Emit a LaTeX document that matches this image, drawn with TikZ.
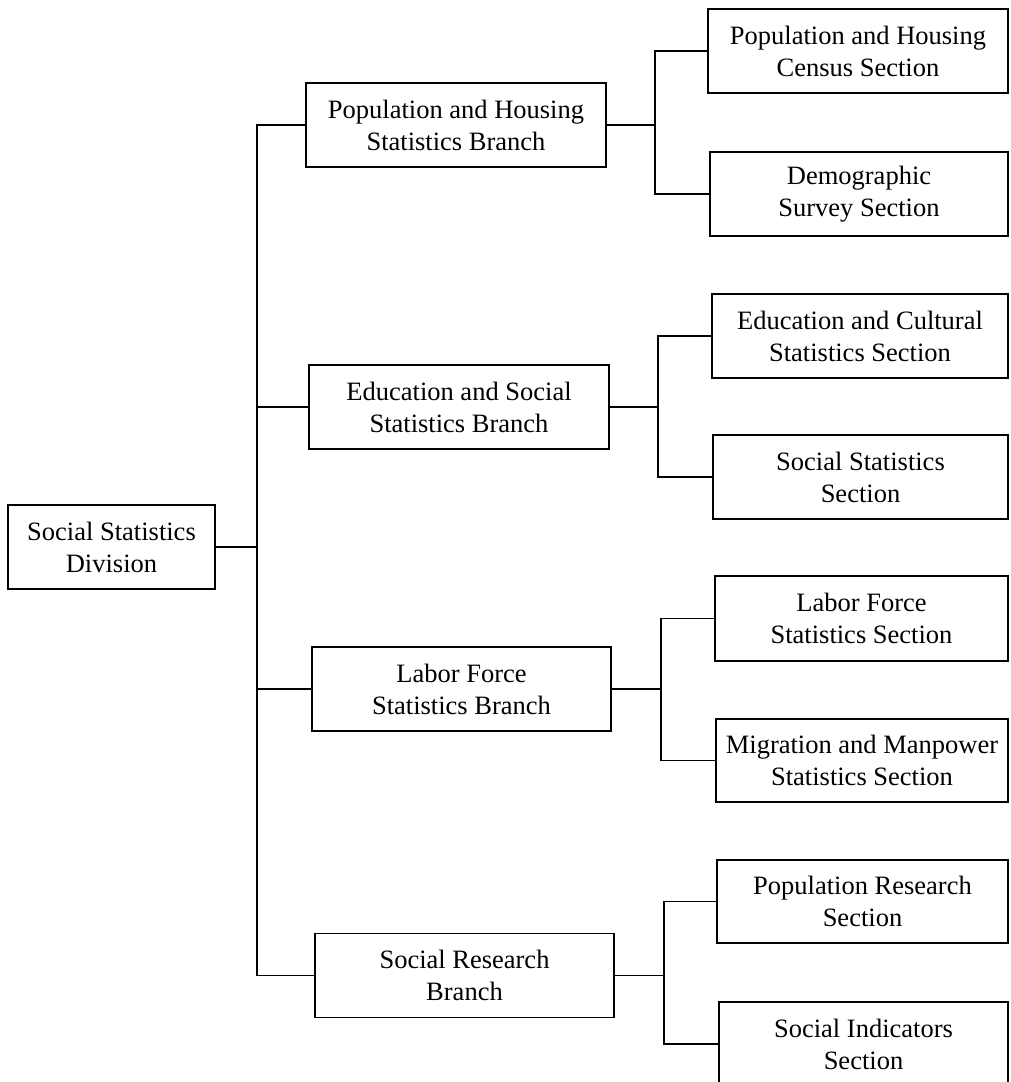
\documentclass[tikz,border=0pt]{standalone}
\usepackage{fontspec}
\setmainfont{Liberation Serif}
\begin{document}
\begin{tikzpicture}[x=1pt,y=-1pt,
  box/.style={draw=black, line width=1.5pt, rectangle, inner sep=0pt, align=center,
    font=\fontsize{26.5}{32}\selectfont, text=black},
  link/.style={draw=black, line width=1.5pt}]
\useasboundingbox (0,0) rectangle (1010,1082);
\clip (0,0) rectangle (1010,1082);
\fill[white] (0,0) rectangle (1010,1082);
% root
\node[box, minimum width=207pt, minimum height=84pt] (root) at (111.5,547) {Social Statistics\\Division};
% branches
\node[box, minimum width=300pt, minimum height=84pt] (b1) at (456,125) {Population and Housing\\Statistics Branch};
\node[box, minimum width=300pt, minimum height=84pt] (b2) at (459,407) {Education and Social\\Statistics Branch};
\node[box, minimum width=299pt, minimum height=84pt] (b3) at (461.5,689) {Labor Force\\Statistics Branch};
\node[box, minimum width=299pt, minimum height=84pt] (b4) at (464.5,975.5) {Social Research\\Branch};
% sections
\node[box, minimum width=300pt, minimum height=84pt] (c1) at (858,51) {Population and Housing\\Census Section};
\node[box, minimum width=298pt, minimum height=84pt] (c2) at (859,194) {Demographic\\Survey Section};
\node[box, minimum width=296pt, minimum height=84pt] (c3) at (860,336) {Education and Cultural\\Statistics Section};
\node[box, minimum width=295pt, minimum height=84pt] (c4) at (860.5,477) {Social Statistics\\Section};
\node[box, minimum width=293pt, minimum height=85pt] (c5) at (861.5,618.5) {Labor Force\\Statistics Section};
\node[box, minimum width=292pt, minimum height=83pt] (c6) at (862,760.5) {Migration and Manpower\\Statistics Section};
\node[box, minimum width=291pt, minimum height=83pt] (c7) at (862.5,901.5) {Population Research\\Section};
\node[box, minimum width=289pt, minimum height=84pt] (c8) at (863.5,1044) {Social Indicators\\Section};
% trunk coordinates
\coordinate (tk) at (257,0);
\coordinate (s1) at (655,0);
\coordinate (s2) at (658,0);
\coordinate (s3) at (661,0);
\coordinate (s4) at (664,0);
% main trunk
\draw[link] (root.east) -- (root.east -| tk);
\draw[link] (b1.west) -| (tk |- b4.west) -- (b4.west);
\draw[link] (b2.west) -- (b2.west -| tk);
\draw[link] (b3.west) -- (b3.west -| tk);
% sub trunks
\draw[link] (b1.east) -- (b1.east -| s1);
\draw[link] (c1.west) -| (s1 |- c2.west) -- (c2.west);
\draw[link] (b2.east) -- (b2.east -| s2);
\draw[link] (c3.west) -| (s2 |- c4.west) -- (c4.west);
\draw[link] (b3.east) -- (b3.east -| s3);
\draw[link] (c5.west) -| (s3 |- c6.west) -- (c6.west);
\draw[link] (b4.east) -- (b4.east -| s4);
\draw[link] (c7.west) -| (s4 |- c8.west) -- (c8.west);
\end{tikzpicture}
\end{document}
